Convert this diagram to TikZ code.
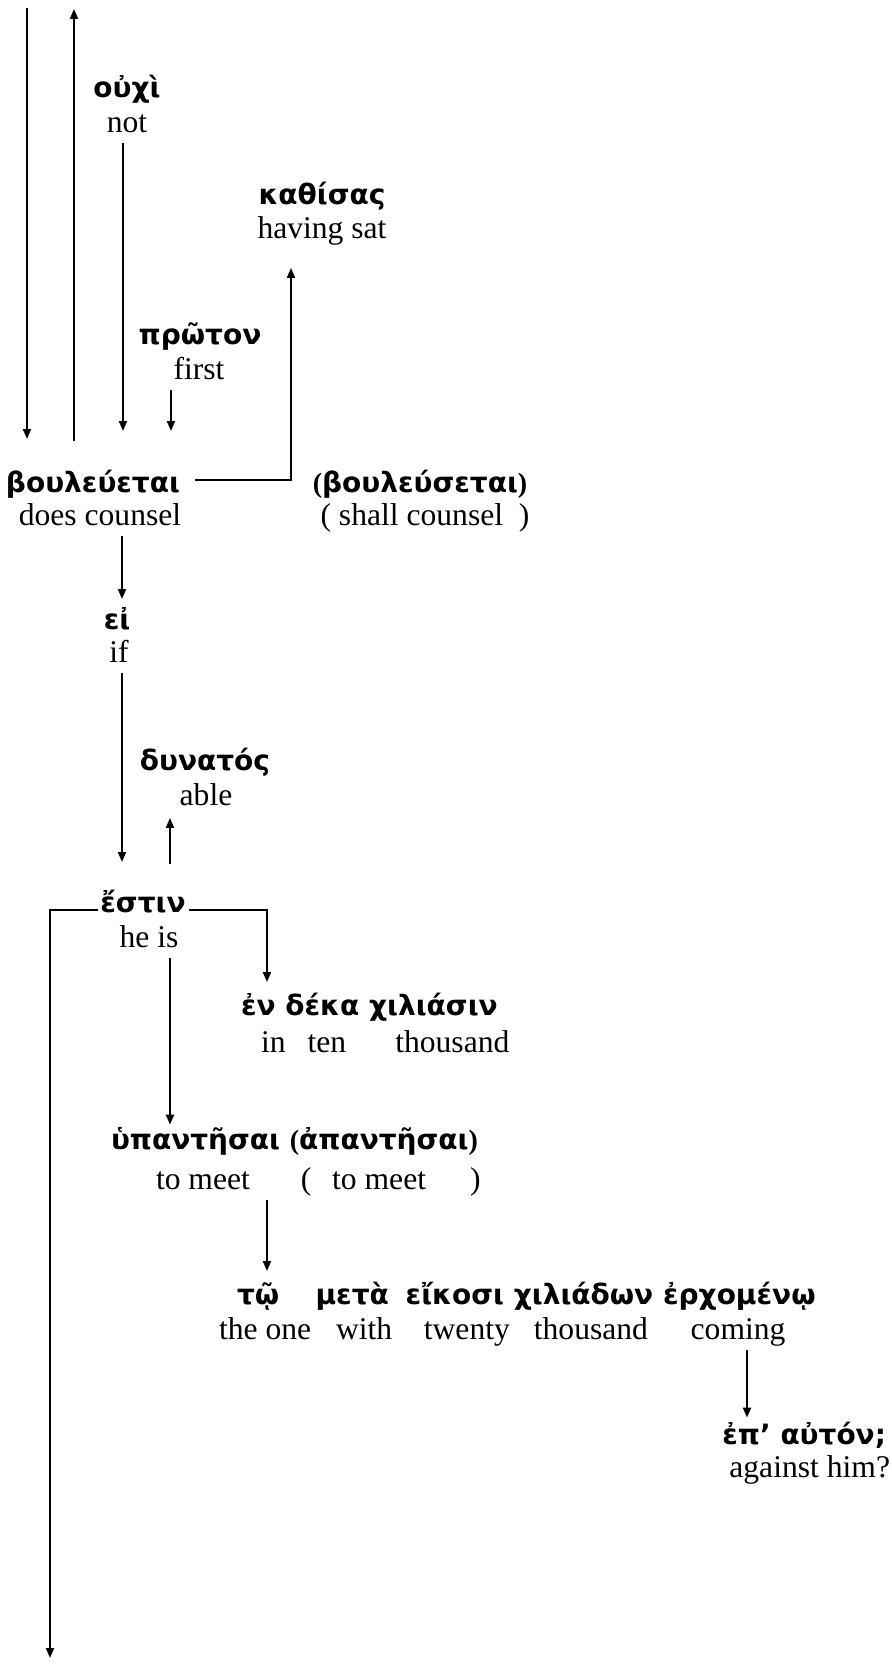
\documentclass[tikz,border=0pt]{standalone}
\usepackage{fontspec}
\setmainfont{Liberation Serif}
\newfontfamily\greekfont{DejaVu Sans}
\usetikzlibrary{arrows.meta}

\begin{document}
\begin{tikzpicture}[x=0.5pt,y=-0.5pt,line width=1pt,
  >={Triangle[length=5pt,width=4pt]},
  gr/.style={font={\greekfont\bfseries\fontsize{14}{17}\selectfont},
    inner sep=1pt,text height=11pt,text depth=3.4pt},
  en/.style={font={\fontsize{15.8}{19}\selectfont},
    inner sep=1pt,text height=11.2pt,text depth=3.5pt}]
\useasboundingbox (0,0) rectangle (891,1664);
\node[gr] (ouchi) at (127,90) {οὐχὶ};
\node[en] (not) at (127,125) {not};
\node[gr] (kathisas) at (322,197) {καθίσας};
\node[en] (sat) at (322,231) {having sat};
\node[gr] (proton) at (200,337) {πρῶτον};
\node[en] (first) at (199,372) {first};
\node[gr] (bou) at (93,485) {βουλεύεται};
\node[en] (does) at (100,518) {does counsel};
\node[gr] (boufut) at (420,485) {\textbf{\rmfamily(}βουλεύσεται\textbf{\rmfamily)}};
\node[en] (shall) at (425,518) {( shall counsel\ \ )};
\node[gr] (ei) at (117,622) {εἰ};
\node[en] (if) at (119,655) {if};
\node[gr] (dynatos) at (205,763) {δυνατός};
\node[en] (able) at (206,798) {able};
\node[gr] (estin) at (143,905) {ἔστιν};
\node[en] (heis) at (149,940) {he is};
\node[gr,anchor=west] (endeka) at (238,1008) {ἐν δέκα χιλιάσιν};
\node[en,anchor=west] (inten) at (258,1045) {in\hspace{0.7em}ten\hspace{1.55em}thousand};
\node[gr,anchor=west] (hyp) at (108,1142) {ὑπαντῆσαι \textbf{\rmfamily(}ἀπαντῆσαι\textbf{\rmfamily)}};
\node[en,anchor=west] (tomeet) at (153,1182) {to meet\hspace{1.61em}(\hspace{0.66em}to meet\hspace{1.39em})};
\node[gr,anchor=west] (tw) at (234,1297) {τῷ\hspace{1.3em}μετὰ\hspace{0.6em}εἴκοσι χιλιάδων ἐρχομένῳ};
\node[en,anchor=west] (theone) at (216,1332) {the one\hspace{0.79em}with\hspace{1em}twenty\hspace{0.76em}thousand\hspace{1.35em}coming};
\node[gr,anchor=east] (ep) at (889,1437) {ἐπ’ αὐτόν;};
\node[en,anchor=east] (against) at (893,1470) {against him?};
\coordinate (top1) at (27,8);
\coordinate (top2) at (74,9);
\coordinate (bottom) at (50,1658);
\draw [->, shorten >=14.3pt] (top1) -- (top1 |- bou.north);
\draw [->, shorten <=13.3pt] (top2 |- bou.north) -- (top2);
\draw [->, shorten >=18.3pt] ([xshift=-2pt]not.south) -- ([xshift=15pt]bou.north);
\draw [->, shorten >=18.3pt] ([xshift=-14pt]first.south) -- ([xshift=39pt]bou.north);
\draw [->, shorten >=9.6pt] ([xshift=51pt,yshift=2.5pt]bou.center) -| ([xshift=-15.5pt]sat.south);
\draw [->, shorten >=2.8pt] ([xshift=11pt]does.south) -- ([xshift=2.5pt]ei.north);
\draw [->, shorten >=12.8pt] ([xshift=1.5pt]if.south) -- ([xshift=-10.5pt]estin.north);
\draw [->, shorten <=11.8pt, shorten >=1.1pt] ([xshift=13.5pt]estin.north) -- ([xshift=-18pt]able.south);
\draw [->, shorten >=4.3pt] ([xshift=23pt,yshift=-2.5pt]estin.center) -| ([xshift=14.5pt]endeka.north west);
\draw [->] ([xshift=-22.5pt,yshift=-2.5pt]estin.center) -| (bottom);
\draw [->] ([xshift=10.5pt]heis.south) -- ([xshift=31pt]hyp.north west);
\draw [->, shorten >=4.3pt] ([xshift=57pt]tomeet.south west) -- ([xshift=16.5pt]tw.north west);
\draw [->, shorten >=1pt] ([xshift=265.5pt]theone.south west) -- ([xshift=-71pt]ep.north east);
\end{tikzpicture}
\end{document}
